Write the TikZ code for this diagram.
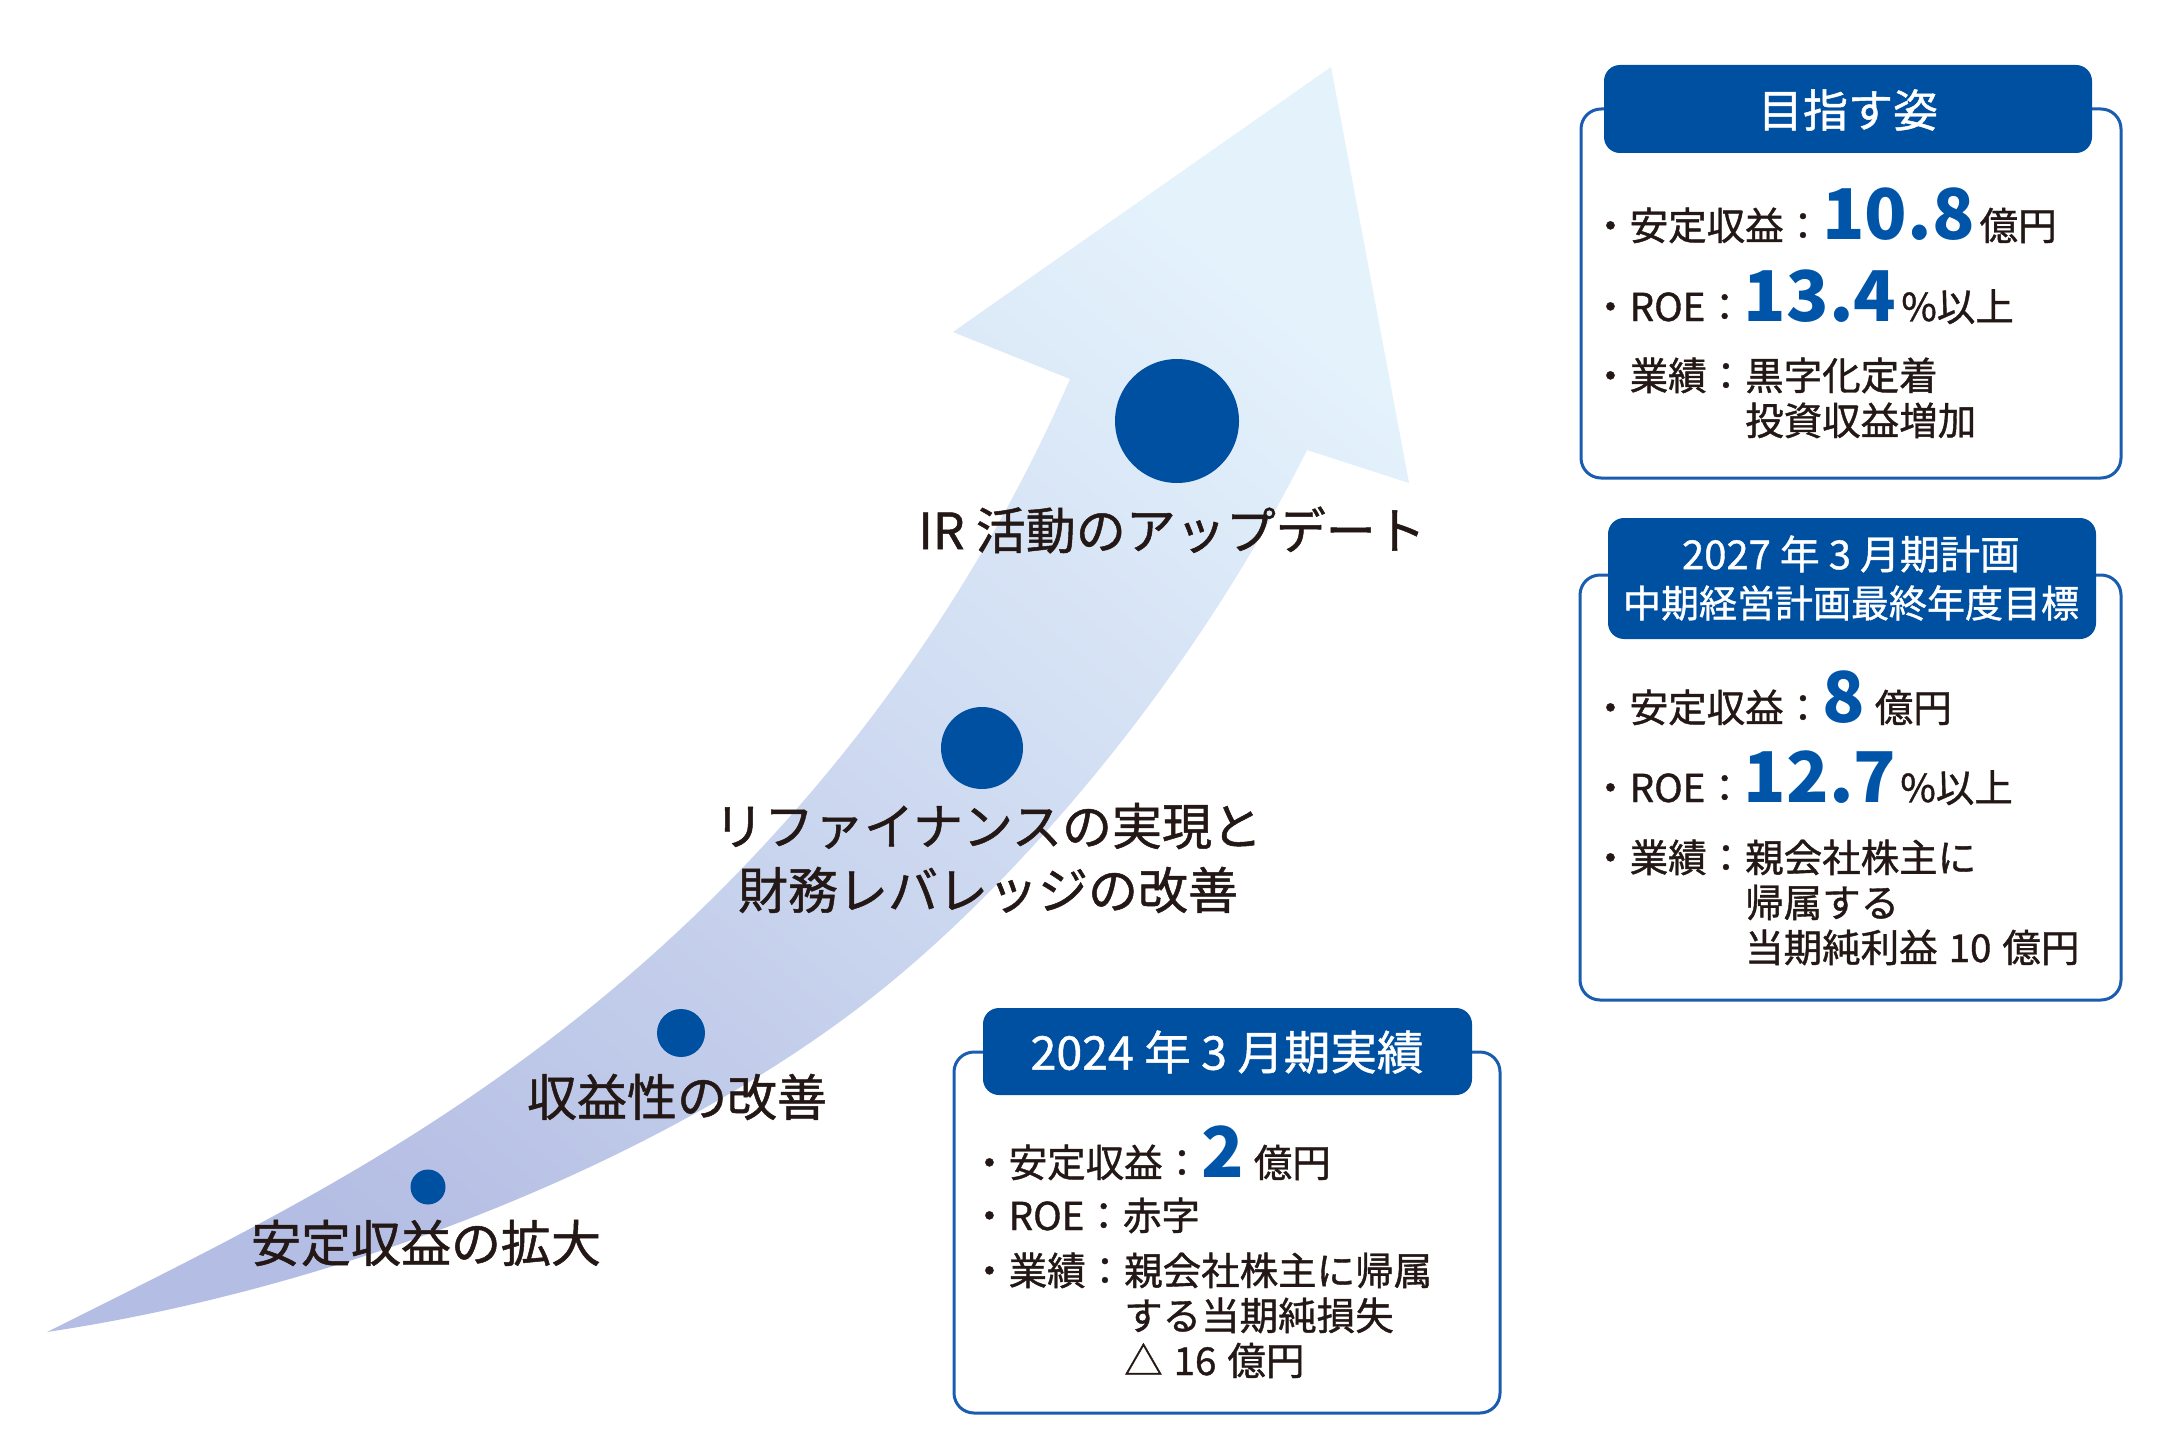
\documentclass[tikz,border=0pt]{standalone}
\usepackage{fontspec}
\setmainfont{Noto Sans CJK JP}[FakeBold=1.0]
\newfontfamily\numfont{Noto Sans CJK JP}
\definecolor{hdr}{HTML}{0050A2}
\definecolor{frm}{HTML}{1A5DB0}
\definecolor{num}{HTML}{0055A8}
\definecolor{ink}{HTML}{231815}
\definecolor{dotc}{HTML}{0050A2}
\definecolor{arrA}{HTML}{B4BDE3}
\definecolor{arrM}{HTML}{C9D4EE}
\definecolor{arrB}{HTML}{E4F2FC}
\newcommand\bignum[1]{{\numfont\fontsize{70}{70}\selectfont\bfseries\color{num}#1}}
\tikzset{
  body/.style={anchor=base west, inner sep=0pt, text=ink, font=\fontsize{38.5}{45}\selectfont},
  hdrtext/.style={inner sep=0pt, text=white, align=center},
  lbl/.style={inner sep=0pt, text=ink, align=center, font=\fontsize{50}{64}\selectfont},
  frame/.style={draw=frm, line width=3pt, rounded corners=20pt, fill=white},
  tab/.style={fill=hdr, rounded corners=16pt},
  milestone/.style={fill=dotc}
}
\begin{document}
\begin{tikzpicture}[x=1pt,y=-1pt]
\useasboundingbox (0,0) rectangle (2179,1455);
\fill[white] (0,0) rectangle (2179,1455);
% arrow
\coordinate (tail) at (47,1332);
\coordinate (uj) at (1070,379);
\coordinate (lb) at (953,332);
\coordinate (tip) at (1331,67);
\coordinate (rb) at (1409,483);
\coordinate (lj) at (1307,450);
\shade[top color=arrB, middle color=arrM, bottom color=arrA, shading angle=-40]
  (tail) .. controls (247,1232) and (430,1144) .. (620,983)
  .. controls (770,856) and (950,655) .. (uj)
  -- (lb) -- (tip) -- (rb) -- (lj)
  .. controls (1187,690) and (1003,900) .. (853,1012)
  .. controls (653,1162) and (347,1287) .. (tail) -- cycle;
% milestones
\fill[milestone] (428,1187) circle[radius=17.5];
\fill[milestone] (681,1033) circle[radius=24];
\fill[milestone] (982,748) circle[radius=41];
\fill[milestone] (1177,421) circle[radius=62];
\node[lbl] (m1) at (426,1243) {安定収益の拡大};
\node[lbl] (m2) at (677,1097) {収益性の改善};
\node[lbl] (m3) at (988,858) {リファイナンスの実現と\\財務レバレッジの改善};
\node[lbl] (m4) at (1172,530) {IR 活動のアップデート};
% box 1
\draw[frame] (1581,109) rectangle (2121,478);
\fill[tab] (1604,65) rectangle (2092,153);
\node[hdrtext, font=\fontsize{45}{50}\selectfont] (h1) at (1848,110) {目指す姿};
\node[body] (a1) at (1591,240) {・安定収益：\bignum{10.8}\kern5pt 億円};
\node[body] (a2) at (1591,321) {・ROE：\bignum{13.4}\kern5pt\%以上};
\node[body] (a3) at (1591,390) {・業績：黒字化定着};
\node[body] (a4) at (1591,435) {\phantom{・業績：}投資収益増加};
% box 2
\draw[frame] (1580,575) rectangle (2121,1000);
\fill[tab] (1608,518) rectangle (2096,639);
\node[hdrtext, font=\fontsize{40}{45}\selectfont] (h2a) at (1851,554) {2027 年 3 月期計画};
\node[hdrtext, font=\fontsize{38}{45}\selectfont] (h2b) at (1851,603) {中期経営計画最終年度目標};
\node[body] (b1) at (1591,722) {・安定収益：\bignum{8}\kern10pt 億円};
\node[body] (b2) at (1591,802) {・ROE：\bignum{12.7}\kern4pt\%以上};
\node[body] (b3) at (1591,872) {・業績：親会社株主に};
\node[body] (b4) at (1591,917) {\phantom{・業績：}帰属する};
\node[body] (b5) at (1591,962) {\phantom{・業績：}当期純利益\kern11pt 10\kern11pt 億円};
% box 3
\draw[frame] (954,1052) rectangle (1500,1413);
\fill[tab] (983,1008) rectangle (1472,1095);
\node[hdrtext, font=\fontsize{46.5}{50}\selectfont] (h3) at (1227,1052) {2024 年 3 月期実績};
\node[body] (c1) at (970,1177) {・安定収益：\bignum{2}\kern10pt 億円};
\node[body] (c2) at (970,1230) {・ROE：赤字};
\node[body] (c3) at (970,1285) {・業績：親会社株主に帰属};
\node[body] (c4) at (970,1330) {\phantom{・業績：}する当期純損失};
\node[body] (c5) at (970,1375) {\phantom{・業績：}△\kern11pt 16\kern11pt 億円};
\end{tikzpicture}
\end{document}
